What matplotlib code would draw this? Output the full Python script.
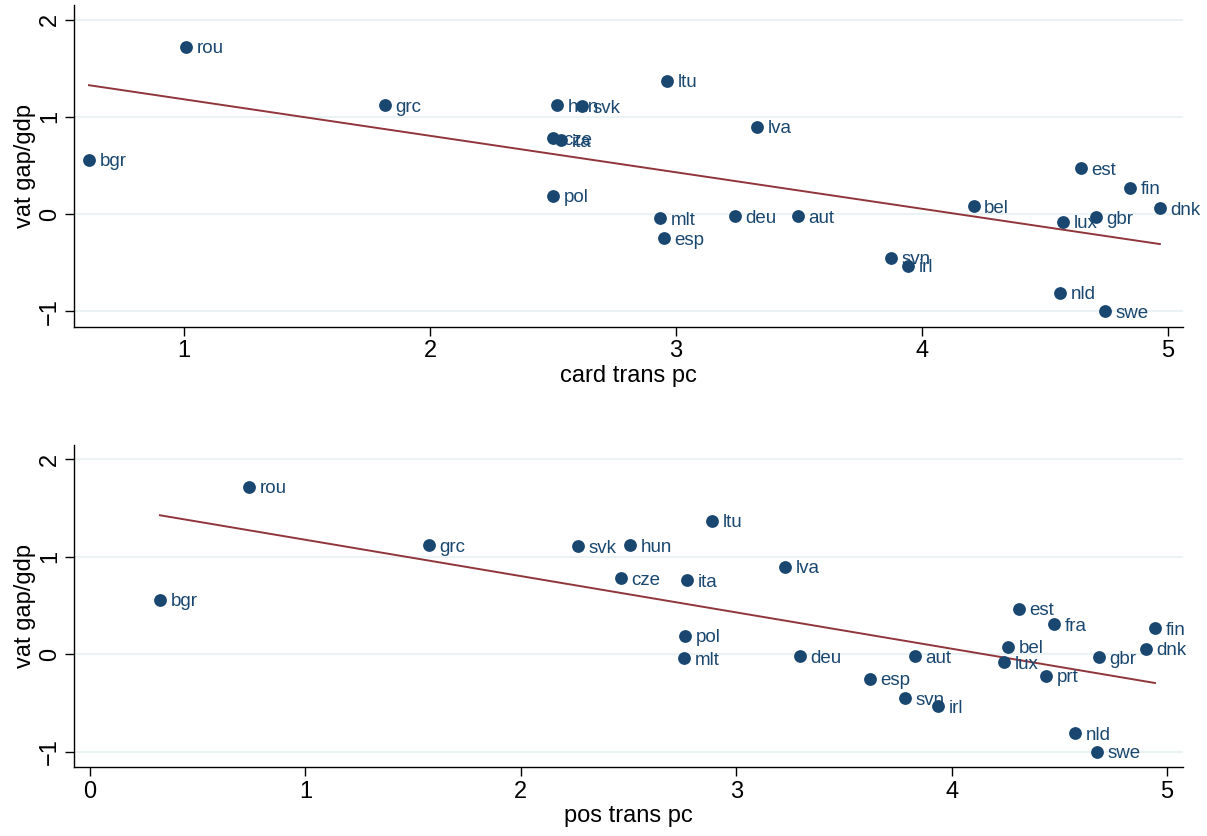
# vat gap vs card / pos transactions per capita
import numpy as np
import matplotlib.pyplot as plt

plt.rcParams['font.family'] = ['Liberation Sans', 'DejaVu Sans']

# data
countries = ["rou", "grc", "hun", "svk", "ltu", "cze", "ita", "lva", "bgr", "pol",
             "mlt", "esp", "deu", "aut", "est", "fin", "bel", "dnk", "lux", "gbr",
             "svn", "irl", "nld", "swe", "fra", "prt"]
vat_gap = [1.72, 1.12, 1.12, 1.11, 1.37, 0.78, 0.76, 0.90, 0.56, 0.19,
           -0.04, -0.25, -0.02, -0.02, 0.47, 0.27, 0.08, 0.06, -0.08, -0.03,
           -0.45, -0.53, -0.81, -1.00, 0.31, -0.22]
card_trans = [1.008, 1.817, 2.516, 2.62, 2.963, 2.50, 2.533, 3.329, 0.614, 2.50,
              2.935, 2.951, 3.24, 3.496, 4.646, 4.846, 4.21, 4.967, 4.573, 4.707,
              3.874, 3.943, 4.561, 4.744, np.nan, np.nan]
pos_trans = [0.738, 1.574, 2.507, 2.266, 2.888, 2.465, 2.772, 3.227, 0.325, 2.762,
             2.758, 3.62, 3.296, 3.83, 4.313, 4.944, 4.262, 4.903, 4.243, 4.684,
             3.784, 3.937, 4.573, 4.675, 4.476, 4.438]

navy = "#1a476f"
maroon = "#90353b"

fig = plt.figure(figsize=(12.07, 8.36), dpi=100)
ax1 = fig.add_axes([0.0613, 0.609, 0.9188, 0.385])
ax2 = fig.add_axes([0.0613, 0.082, 0.9188, 0.386])

panels = [(ax1, card_trans, "card trans pc", (0.553, 5.061), [1, 2, 3, 4, 5]),
          (ax2, pos_trans, "pos trans pc", (-0.074, 5.074), [0, 1, 2, 3, 4, 5])]

for ax, xs, xlab, xlim, xt in panels:
    x = np.array(xs, dtype=float)
    y = np.array(vat_gap)
    ok = ~np.isnan(x)
    ax.scatter(x[ok], y[ok], s=85, color=navy, zorder=3, linewidths=0)
    for c, xi, yi in zip(np.array(countries)[ok], x[ok], y[ok]):
        ax.annotate(c, (xi, yi), xytext=(7.5, -1.5), textcoords="offset points",
                    va="center", ha="left", fontsize=13.5, color=navy, zorder=4)
    # linear fit
    b, a = np.polyfit(x[ok], y[ok], 1)
    xx = np.array([x[ok].min(), x[ok].max()])
    ax.plot(xx, a + b * xx, color=maroon, lw=1.4, zorder=2)

    ax.set_xlim(*xlim)
    ax.set_ylim(-1.16, 2.15)
    ax.set_xticks(xt)
    ax.set_yticks([-1, 0, 1, 2])
    ax.set_yticklabels(["\u22121", "0", "1", "2"], rotation=90, va="center")
    ax.grid(axis="y", color="#eaf2f3", lw=1.5, zorder=0)
    ax.set_axisbelow(True)
    for s in ["top", "right"]:
        ax.spines[s].set_visible(False)
    ax.spines["left"].set_linewidth(1.0)
    ax.spines["bottom"].set_linewidth(1.0)
    ax.tick_params(direction="out", length=6.5, width=1, labelsize=17, pad=3)
    ax.set_xlabel(xlab, fontsize=17, labelpad=2)
    ax.set_ylabel("vat gap/gdp", fontsize=17, labelpad=2)

fig.savefig("out.png", dpi=100)
